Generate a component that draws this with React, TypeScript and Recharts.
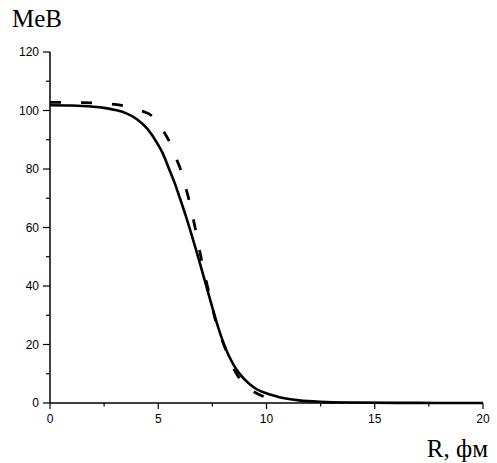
import React from 'react';
import { LineChart, Line, XAxis, YAxis } from 'recharts';

// потенциал, МэВ, от R (фм)
const solidR = [0, 1, 1.5, 2, 2.5, 3, 3.5, 4, 4.5, 5, 5.23, 5.5, 5.77, 6.0, 6.25, 6.5, 6.75, 7.0, 7.25, 7.5, 7.75, 8.0, 8.25, 8.5, 8.78, 9.2, 9.55, 10.16, 10.6, 11.1, 11.5, 12.5, 14, 16, 18, 20];
const solidV = [101.8, 101.7, 101.55, 101.3, 100.9, 100.2, 99.1, 97.1, 93.7, 88.2, 85, 80, 75, 70, 64.5, 58.5, 52.3, 45.8, 39.2, 32.6, 26.3, 20.8, 16.3, 12.8, 9.8, 6.6, 4.7, 2.9, 2.0, 1.3, 0.9, 0.4, 0.15, 0.05, 0.02, 0];

const dashR = [0, 0.5, 1, 1.5, 2, 2.5, 3, 3.5, 4, 4.3, 4.7, 5, 5.3, 5.55, 5.8, 6.0, 6.2, 6.4, 6.7, 7.0, 7.3, 7.7, 8.1, 8.4, 8.7, 9.0, 9.3, 9.6, 10.1];
const dashV = [102.8, 102.8, 102.8, 102.7, 102.6, 102.4, 102.1, 101.5, 100.6, 99.7, 98.2, 95.8, 92.2, 88.8, 84.0, 80.5, 75.5, 70.0, 60.0, 48.8, 39.0, 26.8, 18.6, 13.0, 9.0, 6.0, 4.3, 3.1, 1.6];

const xTicks = [0, 2.5, 5, 7.5, 10, 12.5, 15, 17.5, 20];
const yTicks = [0, 10, 20, 30, 40, 50, 60, 70, 80, 90, 100, 110, 120];

const solidData = solidR.map((r, i) => ({ r, v: solidV[i] }));
const dashData = dashR.map((r, i) => ({ r, v: dashV[i] }));

const tickFont = { fontFamily: 'Liberation Sans, Arial, sans-serif', fontSize: 12, fill: '#000' };

const YTick = (props: any) => {
  const { x, y, payload } = props;
  const major = payload.value % 20 === 0;
  return (
    <g>
      <line x1={x} x2={x - (major ? 7 : 4)} y1={y} y2={y} stroke="#000" strokeWidth={1.2} />
      {major && (
        <text x={x - 11} y={y} dy={4.2} textAnchor="end" {...tickFont}>
          {payload.value}
        </text>
      )}
    </g>
  );
};

const XTick = (props: any) => {
  const { x, y, payload } = props;
  const major = payload.value % 5 === 0;
  return (
    <g>
      <line x1={x} x2={x} y1={y} y2={y + (major ? 6 : 3.5)} stroke="#000" strokeWidth={1.2} />
      {major && (
        <text x={x} y={y + 20} textAnchor="middle" {...tickFont}>
          {payload.value}
        </text>
      )}
    </g>
  );
};

export default function App() {
  return (
    <div style={{ position: 'absolute', left: 0, top: 0, width: 497, height: 463, background: '#fff' }}>
      <LineChart width={497} height={463} margin={{ top: 52, right: 14, bottom: 0, left: 0 }}>
        <XAxis
          dataKey="r"
          type="number"
          domain={[0, 20]}
          ticks={xTicks}
          height={60}
          tickSize={0}
          tickMargin={0}
          tickLine={false}
          tick={<XTick />}
          axisLine={{ stroke: '#000', strokeWidth: 1.5 }}
          allowDuplicatedCategory={false}
        />
        <YAxis
          type="number"
          domain={[0, 120]}
          ticks={yTicks}
          width={50}
          tickSize={0}
          tickMargin={0}
          tickLine={false}
          tick={<YTick />}
          axisLine={{ stroke: '#000', strokeWidth: 1.5 }}
          interval={0}
        />
        <Line
          data={solidData}
          dataKey="v"
          type="monotone"
          stroke="#000"
          strokeWidth={2.6}
          dot={false}
          isAnimationActive={false}
        />
        <Line
          data={dashData}
          dataKey="v"
          type="monotone"
          stroke="#000"
          strokeWidth={2.8}
          strokeDasharray="11 20"
          dot={false}
          isAnimationActive={false}
        />
      </LineChart>
      <svg width={497} height={463} style={{ position: 'absolute', left: 0, top: 0, pointerEvents: 'none' }}>
        <text x={12} y={27} fontFamily="Liberation Serif, Times New Roman, serif" fontSize={25} fill="#000">
          MeB
        </text>
        <text x={488} y={457} textAnchor="end" fontFamily="Liberation Serif, Times New Roman, serif" fontSize={25} fill="#000">
          R, фм
        </text>
      </svg>
    </div>
  );
}
